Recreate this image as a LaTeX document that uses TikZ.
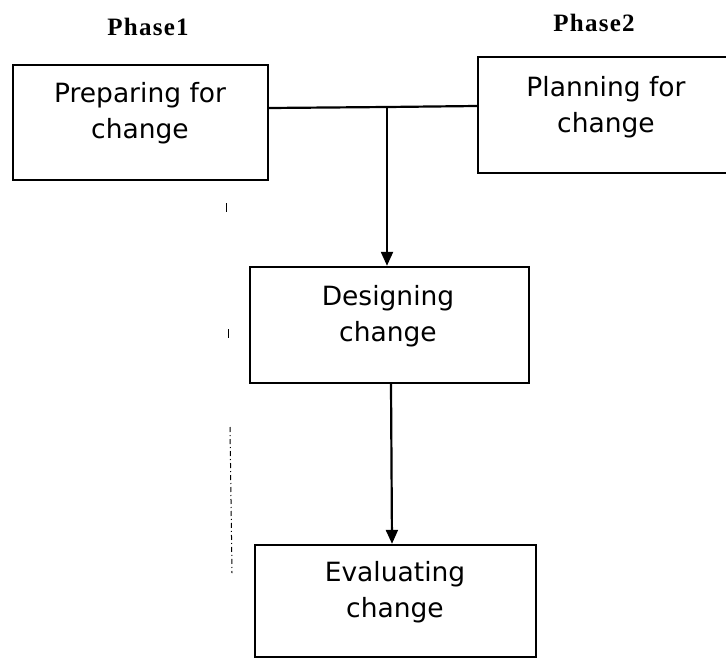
\documentclass[tikz,border=0pt]{standalone}
\usepackage{fontspec}
\setmainfont{DejaVu Sans}
\newfontfamily\phasefont[LetterSpace=5]{Liberation Serif}
\usetikzlibrary{arrows.meta}
\tikzset{
  boxnode/.style={draw=black, line width=2.4pt, rectangle, inner sep=0pt},
  boxtext/.style={align=center, font=\fontsize{26.5}{36}\selectfont, inner sep=0pt},
  phasetext/.style={font=\phasefont\bfseries\fontsize{25}{28}\selectfont, inner sep=0pt},
  conn/.style={line width=2.2pt},
  arr/.style={line width=2.2pt, -{Triangle[length=14pt,width=12pt]}},
  scanmark/.style={line width=1pt, dash pattern=on 5pt off 3pt on 1pt off 3pt}
}
\begin{document}
\begin{tikzpicture}[x=1pt,y=-1pt]
\useasboundingbox[fill=white] (0,0) rectangle (726,659);
% phase labels
\node[phasetext] (ph1) at (148,27) {Phase1};
\node[phasetext] (ph2) at (594,23) {Phase2};
% boxes
\node[boxnode, minimum width=255pt, minimum height=115pt] (prep) at (140.5,122.5) {};
\node[boxnode, minimum width=257pt, minimum height=116pt] (plan) at (606.5,115) {};
\node[boxnode, minimum width=279pt, minimum height=116pt] (design) at (389.5,325) {};
\node[boxnode, minimum width=281pt, minimum height=112pt] (eval) at (395.5,601) {};
% box texts
\node[boxtext] (preptext) at (140,113.5) {Preparing for\\change};
\node[boxtext] (plantext) at (606,107.5) {Planning for\\change};
\node[boxtext] (designtext) at (388,316.5) {Designing\\change};
\node[boxtext] (evaltext) at (395,592.5) {Evaluating\\change};
% connectors
\coordinate (junc) at (387,107);
\draw[conn] (prep.east |- 0,108) -- (junc) -- (plan.west |- 0,106);
\draw[arr] (junc) -- (design.north -| junc);
\draw[arr] (design.south -| 391,0) -- (eval.north -| 392,0);
% faint scan marks at left
\coordinate (m1a) at (226,203);
\coordinate (m1b) at (226,212);
\coordinate (m2a) at (228,329);
\coordinate (m2b) at (228,338);
\coordinate (m3a) at (230,427);
\coordinate (m3b) at (232,573);
\draw[line width=1pt] (m1a) -- (m1b);
\draw[line width=1pt] (m2a) -- (m2b);
\draw[scanmark] (m3a) -- (m3b);
\end{tikzpicture}
\end{document}
